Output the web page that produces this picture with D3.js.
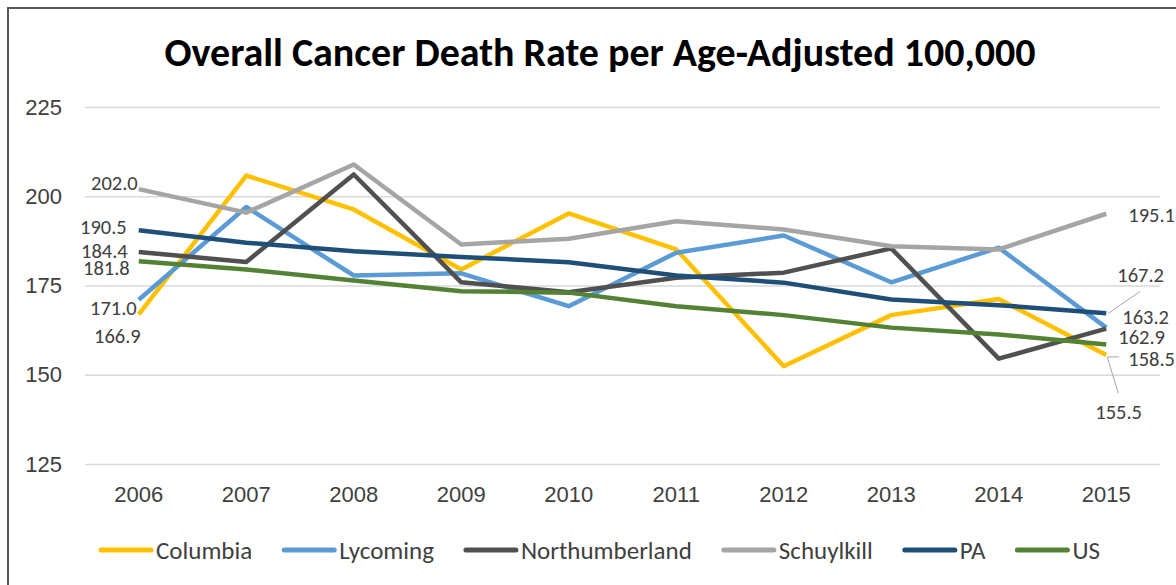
<!DOCTYPE html>
<html>
<head>
<meta charset="utf-8">
<script src="https://cdn.jsdelivr.net/npm/d3@7"></script>
<style>
  body { margin: 0; background: #fff; }
  svg { display: block; font-family: Carlito, Calibri, Lato, sans-serif; }
</style>
</head>
<body>
<div id="chart"></div>
<script>
const years = ["2006", "2007", "2008", "2009", "2010", "2011", "2012", "2013", "2014", "2015"];
const columbia = [166.9, 205.8, 196.3, 179.5, 195.2, 185.1, 152.4, 166.7, 171.2, 155.5];
const lycoming = [171.0, 197.0, 177.8, 178.4, 169.2, 184.2, 189.0, 175.9, 185.6, 163.2];
const northumberland = [184.4, 181.6, 206.1, 175.9, 173.1, 177.2, 178.6, 185.4, 154.5, 162.9];
const schuylkill = [202.0, 195.4, 208.9, 186.5, 188.1, 193.0, 190.7, 186.0, 185.1, 195.1];
const pa = [190.5, 187.0, 184.6, 183.0, 181.5, 177.8, 175.8, 171.1, 169.5, 167.2];
const us = [181.8, 179.5, 176.4, 173.4, 173.0, 169.2, 166.7, 163.2, 161.3, 158.5];
const yTicks = [125, 150, 175, 200, 225];

const series = [
  { name: "Columbia", values: columbia, color: "#FFC000" },
  { name: "Lycoming", values: lycoming, color: "#5B9BD5" },
  { name: "Northumberland", values: northumberland, color: "#505050" },
  { name: "Schuylkill", values: schuylkill, color: "#A5A5A5" },
  { name: "PA", values: pa, color: "#1F4E79" },
  { name: "US", values: us, color: "#548235" }
];

// label placement tweaks (first / last point), relative to the point
const firstLabel = {
  Columbia: [2, 21], Lycoming: [-2, 8], Northumberland: [-11, -1],
  Schuylkill: [-1, -6], PA: [-12, -3], US: [-9, 7]
};
const lastLabel = {
  Columbia: [-11, 57], Lycoming: [16, -11], Northumberland: [12, 8],
  Schuylkill: [22, 1], PA: [11, -39], US: [22, 14]
};
const leaders = {
  Columbia: [1, 2, 12, 38], PA: [2, 0, 34, -22], US: [1, 12.5, 13, 12.5]
};

const W = 1176, H = 585;
const svg = d3.select("#chart").append("svg").attr("width", W).attr("height", H);

// frame
svg.append("path").attr("d", `M8,${H} V8 H${W}`)
  .attr("fill", "none").attr("stroke", "#595959").attr("stroke-width", 2);

svg.append("text")
  .attr("x", 600).attr("y", 66)
  .attr("text-anchor", "middle")
  .attr("font-size", 40).attr("font-weight", "bold").attr("fill", "#000")
  .text("Overall Cancer Death Rate per Age-Adjusted 100,000");

const x = d3.scaleBand().domain(years).range([85, 1160]);
const px = d => x(d) + x.bandwidth() / 2;
const y = d3.scaleLinear().domain([125, 225]).range([464, 107]);

// gridlines + y labels
const yAxis = svg.append("g").attr("transform", "translate(85,0)")
  .call(d3.axisLeft(y).tickValues(yTicks).tickSize(-1075).tickPadding(23));
yAxis.select(".domain").remove();
yAxis.selectAll(".tick line").attr("stroke", "#D9D9D9").attr("stroke-width", 1.3);
yAxis.selectAll(".tick text").attr("font-size", 22).attr("fill", "#404040")
  .attr("font-family", null);

// x labels
const xAxis = svg.append("g").attr("transform", "translate(0,484)")
  .call(d3.axisBottom(x).tickSize(0).tickPadding(2));
xAxis.select(".domain").remove();
xAxis.selectAll(".tick text").attr("font-size", 22).attr("fill", "#404040")
  .attr("font-family", null);

const line = d3.line().x((d, i) => px(years[i])).y(d => y(d));

svg.append("g").selectAll("path")
  .data(series)
  .join("path")
  .attr("d", d => line(d.values))
  .attr("fill", "none")
  .attr("stroke", d => d.color)
  .attr("stroke-width", 4.5)
  .attr("stroke-linejoin", "round");

// leader lines
const lg = svg.append("g");
series.filter(s => leaders[s.name]).forEach(s => {
  const l = leaders[s.name];
  const x0 = px(years[years.length - 1]), y0 = y(s.values[s.values.length - 1]);
  lg.append("line")
    .attr("x1", x0 + l[0]).attr("y1", y0 + l[1])
    .attr("x2", x0 + l[2]).attr("y2", y0 + l[3])
    .attr("stroke", "#A6A6A6").attr("stroke-width", 1);
});

// data labels
const labels = svg.append("g").attr("font-size", 20.5).attr("fill", "#404040");
series.forEach(s => {
  const f = firstLabel[s.name], l = lastLabel[s.name];
  labels.append("text")
    .attr("x", px(years[0]) + f[0]).attr("y", y(s.values[0]) + f[1])
    .attr("dy", "0.35em").attr("text-anchor", "end")
    .text(d3.format(".1f")(s.values[0]));
  const n = s.values.length - 1;
  labels.append("text")
    .attr("x", px(years[n]) + l[0]).attr("y", y(s.values[n]) + l[1])
    .attr("dy", "0.35em").attr("text-anchor", "start")
    .text(d3.format(".1f")(s.values[n]));
});

// legend
const legend = svg.append("g").attr("transform", "translate(101,550)");
let lx = 0;
series.forEach(s => {
  const g = legend.append("g").attr("transform", `translate(${lx},0)`);
  g.append("line").attr("x1", 0).attr("x2", 50)
    .attr("stroke", s.color).attr("stroke-width", 5).attr("stroke-linecap", "round");
  const t = g.append("text").attr("x", 55).attr("dy", "0.35em")
    .attr("font-size", 25).attr("fill", "#404040").text(s.name);
  lx += 55 + t.node().getComputedTextLength() + 32;
});
</script>
</body>
</html>
